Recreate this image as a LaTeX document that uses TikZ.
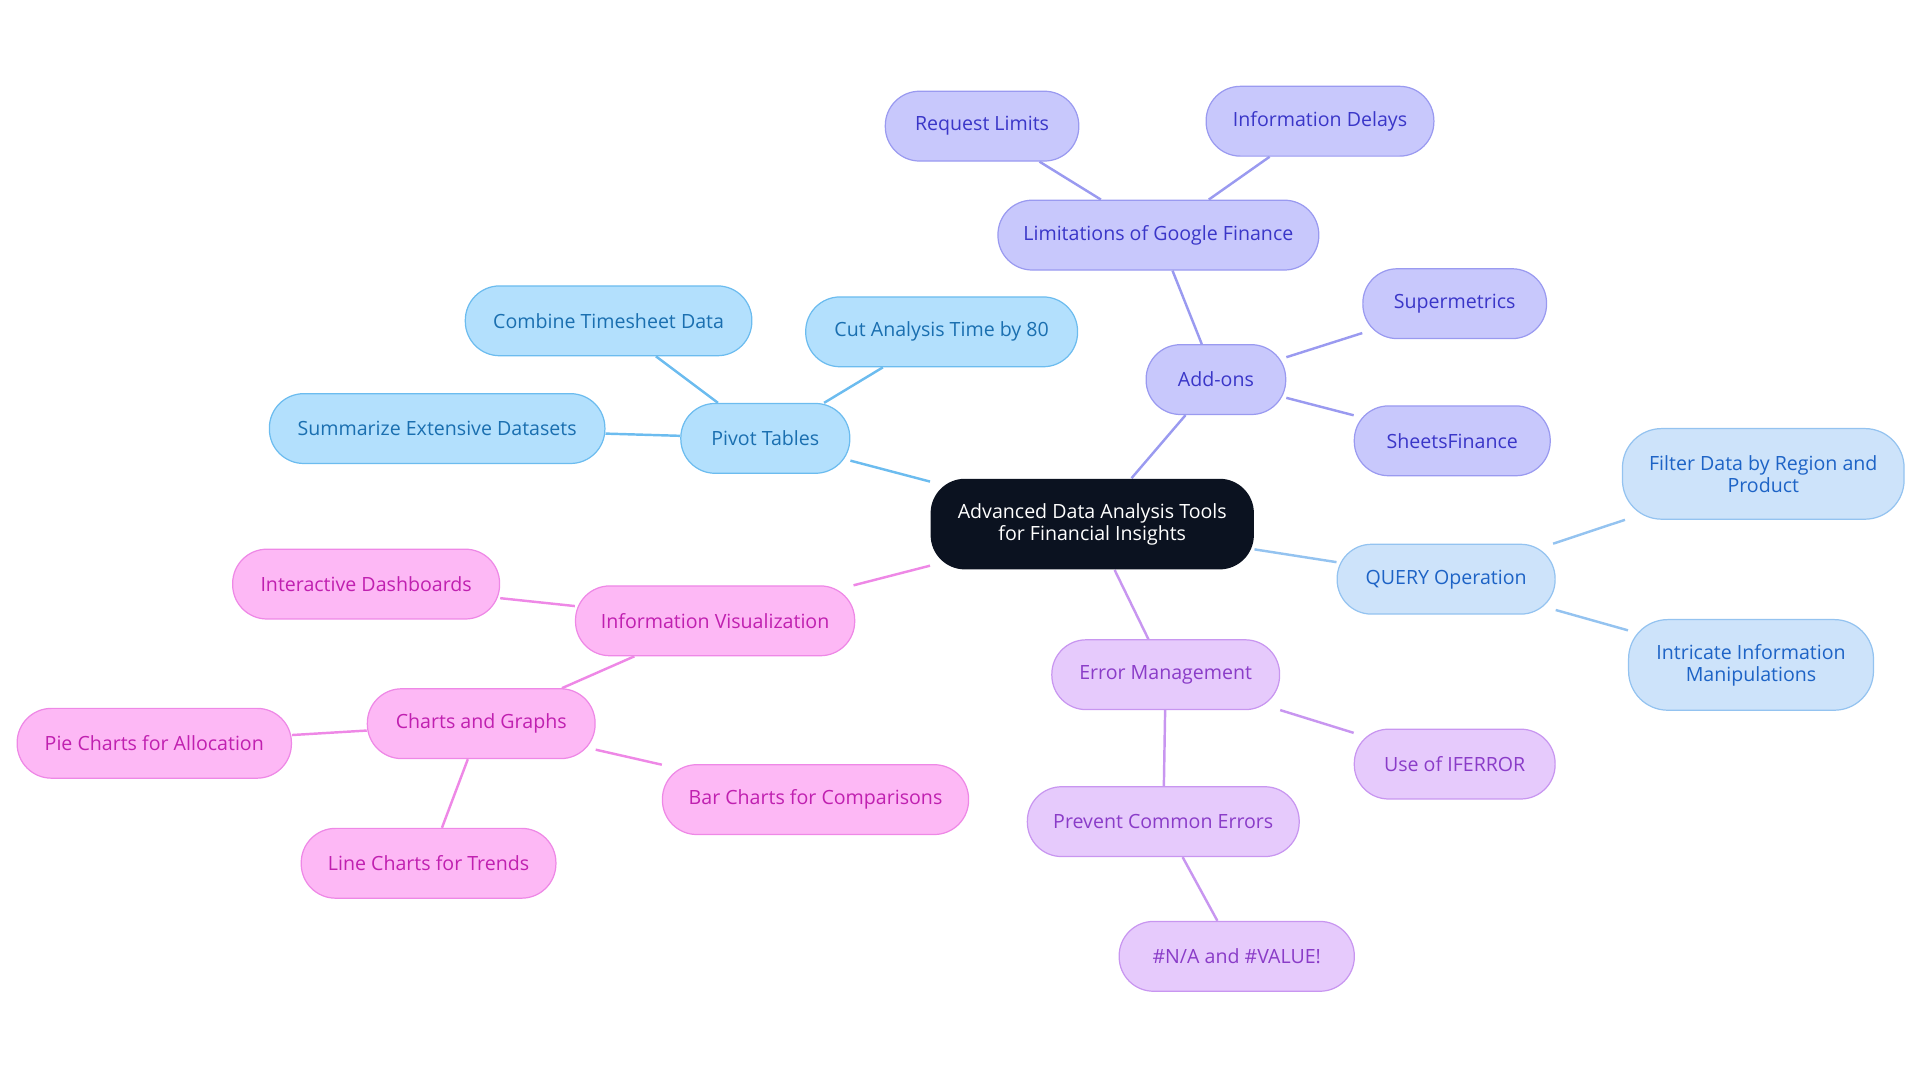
\documentclass[tikz,border=0pt]{standalone}
\usepackage{fontspec}
\setmainfont{Open Sans}
\usetikzlibrary{backgrounds}
\definecolor{rootc}{HTML}{0B1220}
\definecolor{bfill}{HTML}{B3E0FD}\definecolor{bline}{HTML}{6CBCEF}\definecolor{btext}{HTML}{1A6FB0}
\definecolor{pfill}{HTML}{C8C8FC}\definecolor{pline}{HTML}{9A9AF0}\definecolor{ptext}{HTML}{3A36C8}
\definecolor{qfill}{HTML}{CDE3FA}\definecolor{qline}{HTML}{94C3F0}\definecolor{qtext}{HTML}{1D63C6}
\definecolor{lfill}{HTML}{E6CAFC}\definecolor{lline}{HTML}{C896F0}\definecolor{ltext}{HTML}{8A3CC8}
\definecolor{kfill}{HTML}{FDB8F5}\definecolor{kline}{HTML}{EE88E6}\definecolor{ktext}{HTML}{C020B0}
\tikzset{
 box/.style={rounded corners=14pt,minimum height=28.5pt,align=center,font=\fontsize{8}{9}\selectfont,inner sep=2pt,line width=0.5pt},
 bb/.style={box,fill=bfill,draw=bline,text=btext},
 pb/.style={box,fill=pfill,draw=pline,text=ptext},
 qb/.style={box,fill=qfill,draw=qline,text=qtext,minimum height=37pt,rounded corners=16pt},
 qs/.style={box,fill=qfill,draw=qline,text=qtext},
 lb/.style={box,fill=lfill,draw=lline,text=ltext},
 kb/.style={box,fill=kfill,draw=kline,text=ktext},
 e/.style={line width=1pt},
}
\begin{document}
\begin{tikzpicture}[x=0.5pt,y=-0.5pt]
\useasboundingbox (0,0) rectangle (1568,884);
\node[box,fill=rootc,text=white,minimum width=132pt,minimum height=37pt,rounded corners=14pt] (root) at (892,428) {Advanced Data Analysis Tools\\for Financial Insights};
\node[bb,minimum width=69pt] (pivot) at (625,358) {Pivot Tables};
\node[bb,minimum width=117pt] (comb) at (497,262) {Combine Timesheet Data};
\node[bb,minimum width=111pt] (cut) at (769,271) {Cut Analysis Time by 80};
\node[bb,minimum width=137pt] (summ) at (357,350) {Summarize Extensive Datasets};
\node[pb,minimum width=57pt] (add) at (993,310) {Add-ons};
\node[pb,minimum width=131pt] (lim) at (946,192) {Limitations of Google Finance};
\node[pb,minimum width=79pt] (req) at (802,103) {Request Limits};
\node[pb,minimum width=93pt] (del) at (1078,99) {Information Delays};
\node[pb,minimum width=75pt] (sup) at (1188,248) {Supermetrics};
\node[pb,minimum width=80pt] (sf) at (1186,360) {SheetsFinance};
\node[qs,minimum width=89pt] (query) at (1181,473) {QUERY Operation};
\node[qb,minimum width=115pt] (filt) at (1440,387) {Filter Data by Region and\\Product};
\node[qb,minimum width=100pt] (intr) at (1430,543) {Intricate Information\\Manipulations};
\node[lb,minimum width=93pt] (err) at (952,551) {Error Management};
\node[lb,minimum width=82pt] (iferr) at (1188,624) {Use of IFERROR};
\node[lb,minimum width=111pt] (prev) at (950,671) {Prevent Common Errors};
\node[lb,minimum width=96pt] (na) at (1010,781) {\#N/A and \#VALUE!};
\node[kb,minimum width=114pt] (vis) at (584,507) {Information Visualization};
\node[kb,minimum width=109pt] (dash) at (299,477) {Interactive Dashboards};
\node[kb,minimum width=93pt] (chart) at (393,591) {Charts and Graphs};
\node[kb,minimum width=112pt] (pie) at (126,607) {Pie Charts for Allocation};
\node[kb,minimum width=125pt] (bar) at (666,653) {Bar Charts for Comparisons};
\node[kb,minimum width=104pt] (line) at (350,705) {Line Charts for Trends};
\begin{pgfonlayer}{background}
\draw[e,bline] (root)--(pivot) (pivot)--(comb) (pivot)--(cut) (pivot)--(summ);
\draw[e,pline] (root)--(add) (add)--(lim) (lim)--(req) (lim)--(del) (add)--(sup) (add)--(sf);
\draw[e,qline] (root)--(query) (query)--(filt) (query)--(intr);
\draw[e,lline] (root)--(err) (err)--(iferr) (err)--(prev) (prev)--(na);
\draw[e,kline] (root)--(vis) (vis)--(dash) (vis)--(chart) (chart)--(pie) (chart)--(bar) (chart)--(line);
\end{pgfonlayer}
\end{tikzpicture}
\end{document}
